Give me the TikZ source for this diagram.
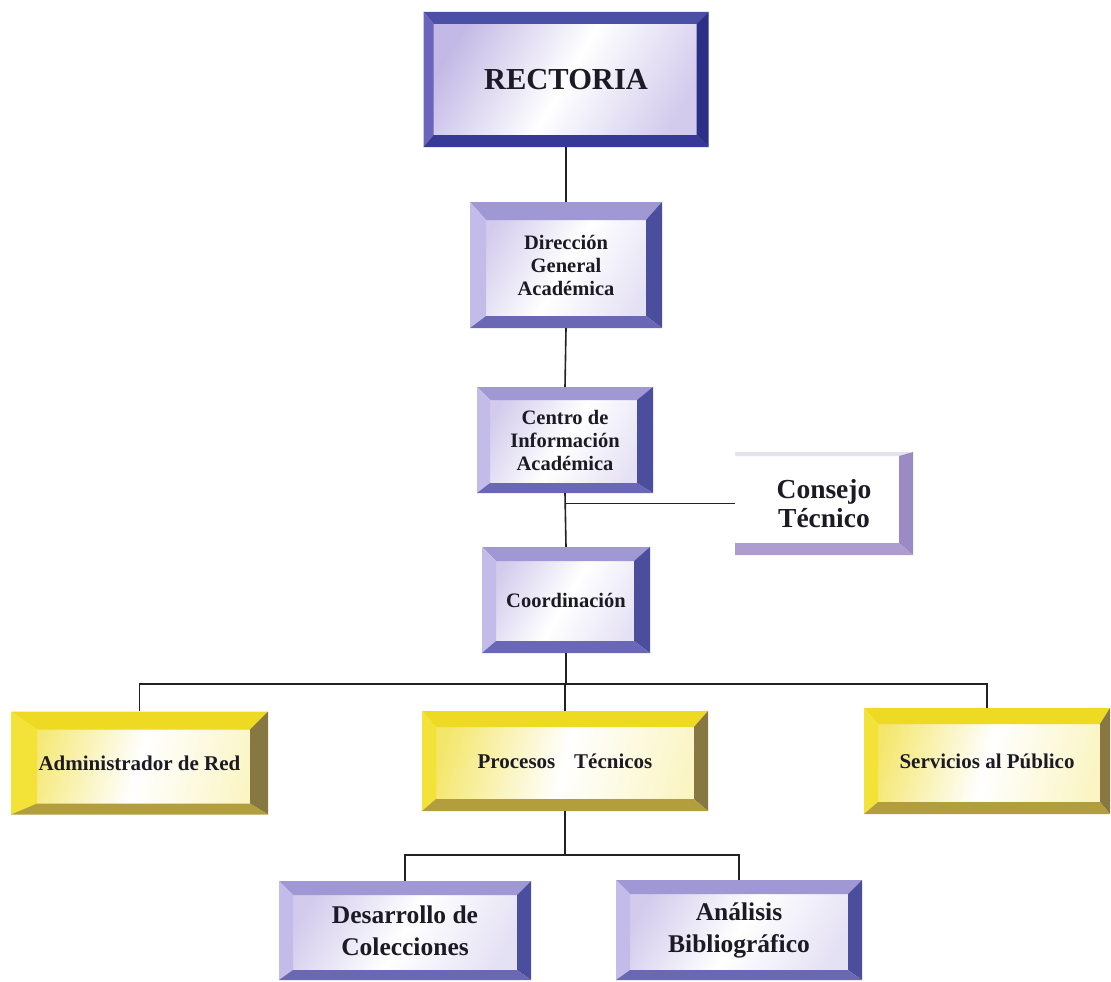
\documentclass[tikz,border=0pt]{standalone}
\usepackage{fontspec}
\setmainfont{Liberation Serif}
\usetikzlibrary{calc}
\definecolor{lav}{HTML}{B4A8E0}
\definecolor{lavL}{HTML}{C4BCE8}
\definecolor{lavT}{HTML}{A098D4}
\definecolor{navyR}{HTML}{4A4E9C}
\definecolor{blueB}{HTML}{6A68B4}
\definecolor{rTop}{HTML}{4C4FA6}
\definecolor{rLeft}{HTML}{6A64BC}
\definecolor{rRight}{HTML}{2C2F86}
\definecolor{rBot}{HTML}{363A96}
\definecolor{yT}{HTML}{EEDA22}
\definecolor{yL}{HTML}{F3E238}
\definecolor{yR}{HTML}{877842}
\definecolor{yB}{HTML}{B39E3E}
\definecolor{yin}{HTML}{F4E66A}
\definecolor{ctR}{HTML}{9C8AC6}
\definecolor{ctB}{HTML}{AC9CD0}
\definecolor{ctT}{HTML}{E4E2EC}
\definecolor{txt}{HTML}{1C1A24}
\definecolor{ln}{HTML}{222222}
\tikzset{
  colT/.store in=\cT, colL/.store in=\cL, colR/.store in=\cR, colB/.store in=\cB,
  bevels/.code n args={4}{\def\bT{#1}\def\bL{#2}\def\bR{#3}\def\bB{#4}},
  bevels={14}{14}{16}{12},
  innerfill/.style={fill=white},
  bevbox/.style={inner sep=0pt, align=center, text=txt, fill=white,
    path picture={
      \path[innerfill] ([xshift=\bL pt,yshift=-\bT pt]path picture bounding box.north west) rectangle ([xshift=-\bR pt,yshift=\bB pt]path picture bounding box.south east);
      \path[fill=\cT] (path picture bounding box.north west) -- (path picture bounding box.north east) -- ([xshift=-\bR pt,yshift=-\bT pt]path picture bounding box.north east) -- ([xshift=\bL pt,yshift=-\bT pt]path picture bounding box.north west) -- cycle;
      \path[fill=\cL] (path picture bounding box.north west) -- (path picture bounding box.south west) -- ([xshift=\bL pt,yshift=\bB pt]path picture bounding box.south west) -- ([xshift=\bL pt,yshift=-\bT pt]path picture bounding box.north west) -- cycle;
      \path[fill=\cR] (path picture bounding box.north east) -- (path picture bounding box.south east) -- ([xshift=-\bR pt,yshift=\bB pt]path picture bounding box.south east) -- ([xshift=-\bR pt,yshift=-\bT pt]path picture bounding box.north east) -- cycle;
      \path[fill=\cB] (path picture bounding box.south west) -- (path picture bounding box.south east) -- ([xshift=-\bR pt,yshift=\bB pt]path picture bounding box.south east) -- ([xshift=\bL pt,yshift=\bB pt]path picture bounding box.south west) -- cycle;
    }},
  pbox/.style={bevbox, colT=lavT, colL=lavL, colR=navyR, colB=blueB,
    innerfill/.style={left color=lav!60, right color=lav!35, middle color=white, shading angle=60}},
  rbox/.style={bevbox, colT=rTop, colL=rLeft, colR=rRight, colB=rBot, bevels={12}{10}{12}{12},
    innerfill/.style={left color=lav!80, right color=lav!60, middle color=white, shading angle=60}},
  ybox/.style={bevbox, colT=yT, colL=yL, colR=yR, colB=yB, bevels={16}{14}{14}{12},
    innerfill/.style={left color=yin, right color=yin!40, middle color=white, shading angle=75}},
  cbox/.style={bevbox, colT=ctT, colL=white, colR=ctR, colB=ctB, bevels={4}{0}{14}{12}},
  midtxt/.style={font=\bfseries\fontsize{20.5}{23}\selectfont},
  rowtxt/.style={font=\bfseries\fontsize{21}{24}\selectfont},
  bigtxt/.style={font=\bfseries\fontsize{25.5}{32}\selectfont},
  conn/.style={draw=ln, line width=1.6pt}
}
\begin{document}
\begin{tikzpicture}[x=1pt,y=-1pt]
\useasboundingbox[fill=white] (0,0) rectangle (1111,982);
\node[rbox, minimum width=285, minimum height=135, font=\bfseries\fontsize{30.5}{34}\selectfont] (R) at (566,79.5) {RECTORIA};
\node[pbox, bevels={18}{16}{16}{12}, minimum width=192, minimum height=126, midtxt] (D) at (566,265) {Dirección\\General\\Académica};
\node[pbox, bevels={13}{13}{16}{10}, minimum width=176, minimum height=106, midtxt] (C) at (565,440) {Centro de\\Información\\Académica};
\node[cbox, minimum width=178, minimum height=103, font=\bfseries\fontsize{27.5}{29}\selectfont] (CT) at (824,503.5) {Consejo\\Técnico};
\node[pbox, bevels={14}{14}{16}{12}, minimum width=168, minimum height=106, midtxt] (Co) at (566,600) {Coordinación};
\node[ybox, bevels={18}{26}{18}{11}, minimum width=257, minimum height=103, rowtxt] (A) at (139.5,763) {Administrador de Red};
\node[ybox, minimum width=286, minimum height=100, rowtxt] (P) at (565,761) {Procesos\hspace{0.9em}Técnicos};
\node[ybox, bevels={16}{14}{10}{12}, minimum width=246, minimum height=106, rowtxt] (S) at (987,761) {Servicios al Público};
\node[pbox, bevels={14}{14}{14}{10}, minimum width=252, minimum height=99, bigtxt] (DC) at (405,930.5) {Desarrollo de\\Colecciones};
\node[pbox, bevels={14}{14}{14}{10}, minimum width=246, minimum height=100, bigtxt] (AB) at (739,930) {Análisis\\Bibliográfico};
\coordinate (bus) at (566,684);
\coordinate (bus2) at (565,855);
\path[conn] (R.south) -- (D.north);
\path[conn] (D.south) -- (C.north);
\path[conn] (C.south) -- (Co.north);
\path[conn] (C.south |- CT.west) -- (CT.west);
\path[conn] (Co.south) -- (Co.south |- bus);
\path[conn] (A.north) -- (A.north |- bus) -- (S.north |- bus) -- (S.north);
\path[conn] (P.north |- bus) -- (P.north);
\path[conn] (P.south) -- (P.south |- bus2);
\path[conn] (DC.north) -- (DC.north |- bus2) -- (AB.north |- bus2) -- (AB.north);
\end{tikzpicture}
\end{document}
